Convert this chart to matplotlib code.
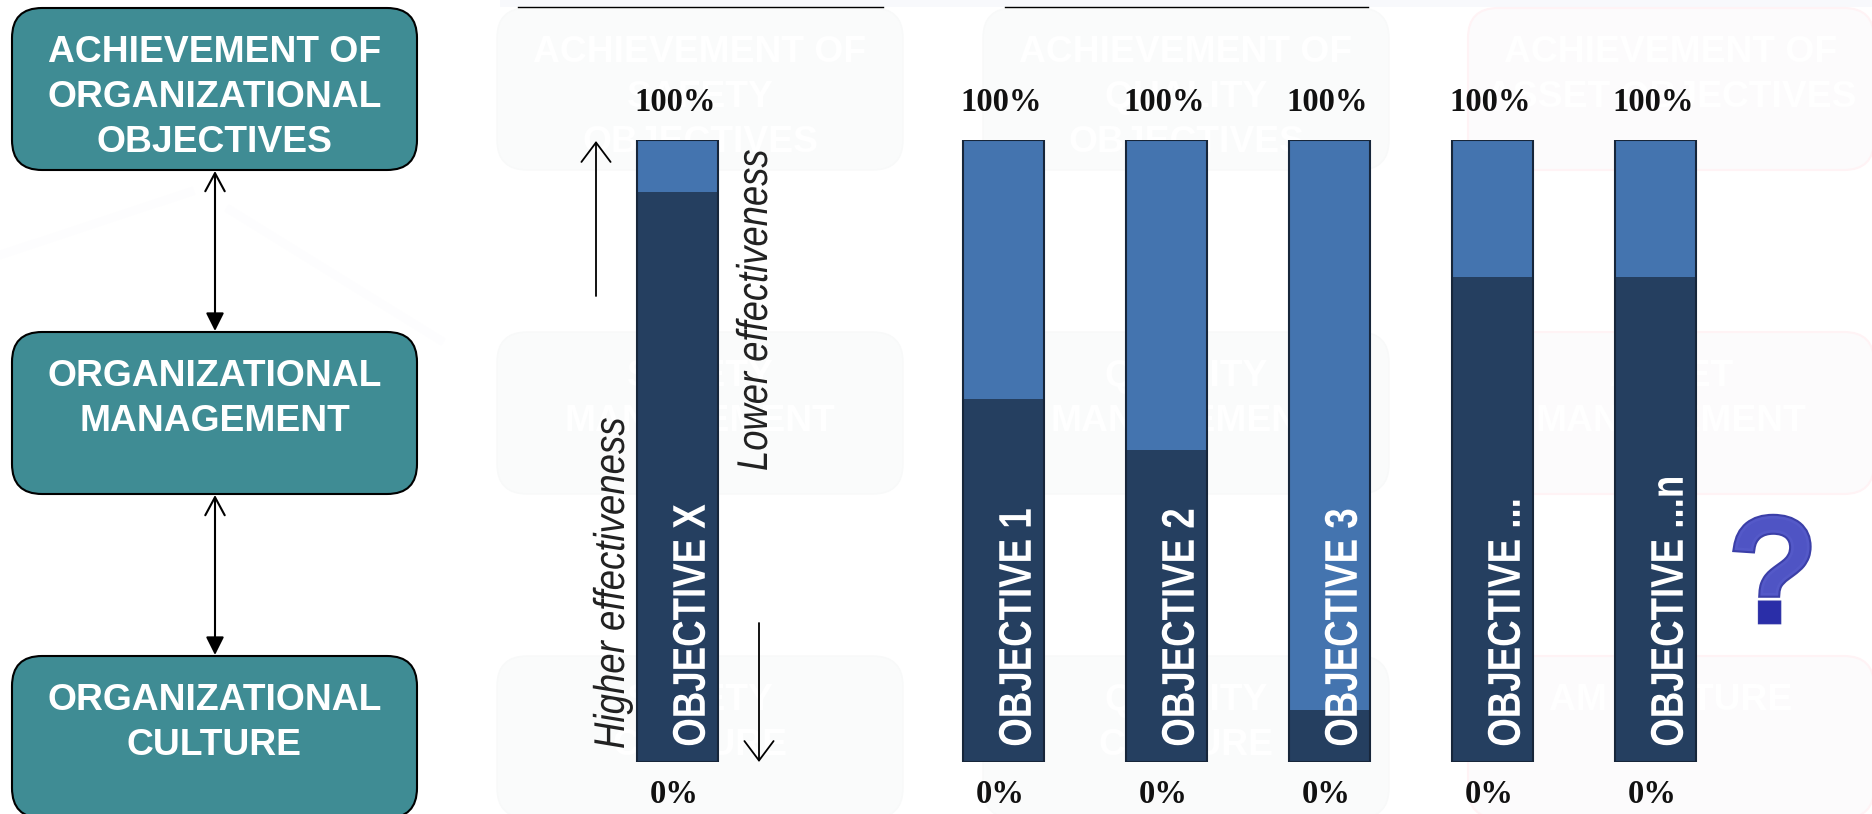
import matplotlib
matplotlib.use('Agg')
import matplotlib.pyplot as plt
import matplotlib.patheffects as pe
from matplotlib.patches import FancyBboxPatch, FancyArrowPatch, Rectangle
from matplotlib.transforms import Affine2D

# 막대 데이터 (달성 비율 %)
objective_names = ['OBJECTIVE X', 'OBJECTIVE 1', 'OBJECTIVE 2', 'OBJECTIVE 3', 'OBJECTIVE ...', 'OBJECTIVE ...n']
objective_slots = [0, 2, 3, 4, 5, 6]
objective_values = [91.6, 58.3, 50.1, 8.3, 77.9, 77.9]

# 왼쪽 흐름도 글자
main_rows = [
    ['ACHIEVEMENT OF', 'ORGANIZATIONAL', 'OBJECTIVES'],
    ['ORGANIZATIONAL', 'MANAGEMENT'],
    ['ORGANIZATIONAL', 'CULTURE'],
]
# 뒤쪽 흐릿한 상자 글자
ghost_safety = [['ACHIEVEMENT OF', 'SAFETY', 'OBJECTIVES'], ['SAFETY', 'MANAGEMENT'], ['SAFETY', 'CULTURE']]
ghost_quality = [['ACHIEVEMENT OF', 'QUALITY', 'OBJECTIVES'], ['QUALITY', 'MANAGEMENT'], ['QUALITY', 'CULTURE']]
ghost_asset = [['ACHIEVEMENT OF', 'ASSET OBJECTIVES'], ['ASSET', 'MANAGEMENT'], ['AM CULTURE']]

TEAL = '#3F8C94'
DARK = '#253F60'
LIGHT = '#4474AF'
W, H = 1872, 814

plt.rcParams['font.family'] = ['Liberation Sans', 'DejaVu Sans']
SERIF = ['Liberation Serif', 'DejaVu Serif']


class Squeeze(pe.AbstractPathEffect):
    # 글자를 기준선 방향으로만 좁힌다 (장체 글꼴 대용)
    def __init__(self, factor):
        super().__init__()
        self.factor = factor

    def draw_path(self, renderer, gc, tpath, affine, rgbFace=None):
        renderer.draw_path(gc, tpath, Affine2D().scale(self.factor, 1) + affine, rgbFace)


fig = plt.figure(figsize=(W / 100, H / 100), dpi=100, facecolor='white')

# 바탕 도형용 축 (픽셀 좌표)
bg = fig.add_axes([0, 0, 1, 1])
bg.set_xlim(0, W)
bg.set_ylim(H, 0)
bg.axis('off')

# 아주 옅은 배경 무늬
bg.plot([0, 190], [255, 192], color='#FDFDFE', lw=6, zorder=0)
bg.plot([230, 440], [210, 340], color='#FDFDFE', lw=6, zorder=0)
bg.add_patch(Rectangle((500, 0), W - 500, 7, fc='#F8F9FC', ec='none'))
bg.plot([518, 883], [7, 7], color='black', lw=1)
bg.plot([1005, 1368], [7, 7], color='black', lw=1)

box_tops = [8, 332, 656]
box_h = 162
line_gap = 44.5


def draw_box(x0, width, top, lines, face, edge, lw, zorder=1):
    box = FancyBboxPatch((x0 + 30, top + 30), width - 60, box_h - 60,
                         boxstyle='round,pad=30,rounding_size=30',
                         fc=face, ec=edge, lw=lw, zorder=zorder)
    bg.add_patch(box)
    for i, line in enumerate(lines):
        bg.text(x0 + width / 2, top + 45 + i * line_gap, line, color='white', fontsize=26.8,
                fontweight='bold', ha='center', va='center', zorder=zorder + 1)


# 흐릿한 상자 3열
for col_x, rows in zip([497, 983], [ghost_safety, ghost_quality]):
    for top, lines in zip(box_tops, rows):
        draw_box(col_x, 406, top, lines, '#FAFBFB', '#F8F9F9', 1)
for top, lines in zip(box_tops, ghost_asset):
    draw_box(1468, 406, top, lines, '#FCFBFC', '#FFF3F5', 1.5)

# 왼쪽 흐름도
for top, lines in zip(box_tops, main_rows):
    draw_box(12, 405, top, lines, TEAL, 'black', 1.5, zorder=3)


def link(x, y_from, y_to, style, lw=1.5):
    bg.add_patch(FancyArrowPatch((x, y_from), (x, y_to), arrowstyle=style, color='black', lw=lw,
                                 shrinkA=0, shrinkB=0, mutation_scale=1, zorder=5))


# 상자 사이 양방향 화살표
for y_top, y_bottom in [(171, 331), (495, 655)]:
    mid = (y_top + y_bottom) / 2
    link(215, mid, y_top, '->,head_length=13,head_width=7')
    link(215, mid, y_bottom, '-|>,head_length=11,head_width=5.5')

# 효과성 방향 화살표
link(596, 296, 141, '->,head_length=14,head_width=10.5', lw=1.3)
link(759, 623, 762, '->,head_length=14,head_width=10.5', lw=1.3)

bg.text(613, 749, 'Higher effectiveness', rotation=90, style='italic',
        fontsize=31, ha='center', va='bottom', color='#222222', path_effects=[Squeeze(0.85)])
bg.text(756, 471, 'Lower effectiveness', rotation=90, style='italic',
        fontsize=31, ha='center', va='bottom', color='#222222', path_effects=[Squeeze(0.845)])

# 물음표: 그림자 + 윤곽선, 아래 점은 더 진하게
q_kw = dict(fontsize=104, ha='center', va='center')
bg.text(1772, 582, '?', color='#4F54C4',
        path_effects=[pe.SimplePatchShadow(offset=(2, -3), shadow_rgbFace='#888888', alpha=0.5),
                      pe.Stroke(linewidth=7, foreground='#3B3FA8', joinstyle='miter'),
                      pe.Stroke(linewidth=4, foreground='#5459C8', joinstyle='miter'),
                      pe.Normal()], **q_kw)
dot = bg.text(1772, 582, '?', color='#2A2EA8', clip_on=True,
              path_effects=[pe.Stroke(linewidth=6, foreground='#2A2EA8', joinstyle='miter'), pe.Normal()], **q_kw)
dot.set_clip_path(Rectangle((1740, 601), 70, 30, transform=bg.transData))

# 막대 차트 축: 0~100%, 칸 간격 163px
bars = fig.add_axes([596 / W, 1 - 762 / H, 1141 / W, 622.5 / H], zorder=2)
bars.patch.set_alpha(0)
bars.set_xlim(-0.5, 6.5)
bars.set_ylim(0, 100)
bars.axis('off')

bar_w = 81 / 163
remain = [100 - v for v in objective_values]
bars.bar(objective_slots, objective_values, width=bar_w, color=DARK)
bars.bar(objective_slots, remain, width=bar_w, bottom=objective_values, color=LIGHT)
bars.bar(objective_slots, [100] * len(objective_slots), width=bar_w, fill=False, edgecolor='#17263A', lw=1.5)

for slot, name in zip(objective_slots, objective_names):
    bars.annotate('100%', (slot, 100), xytext=(-1.8, 26.5), textcoords='offset points', family=SERIF,
                  fontweight='bold', fontsize=23.5, ha='center', va='center', color='#111111')
    bars.annotate('0%', (slot, 0), xytext=(-2.5, -23.5), textcoords='offset points', family=SERIF,
                  fontweight='bold', fontsize=23.5, ha='center', va='center', color='#111111')
    bars.annotate(name, (slot, 0), xytext=(11, 11), textcoords='offset points',
                  fontweight='bold', fontsize=33, rotation=90, ha='center', va='bottom', color='white',
                  path_effects=[Squeeze(0.80)])

fig.savefig('out.png', dpi=100)
